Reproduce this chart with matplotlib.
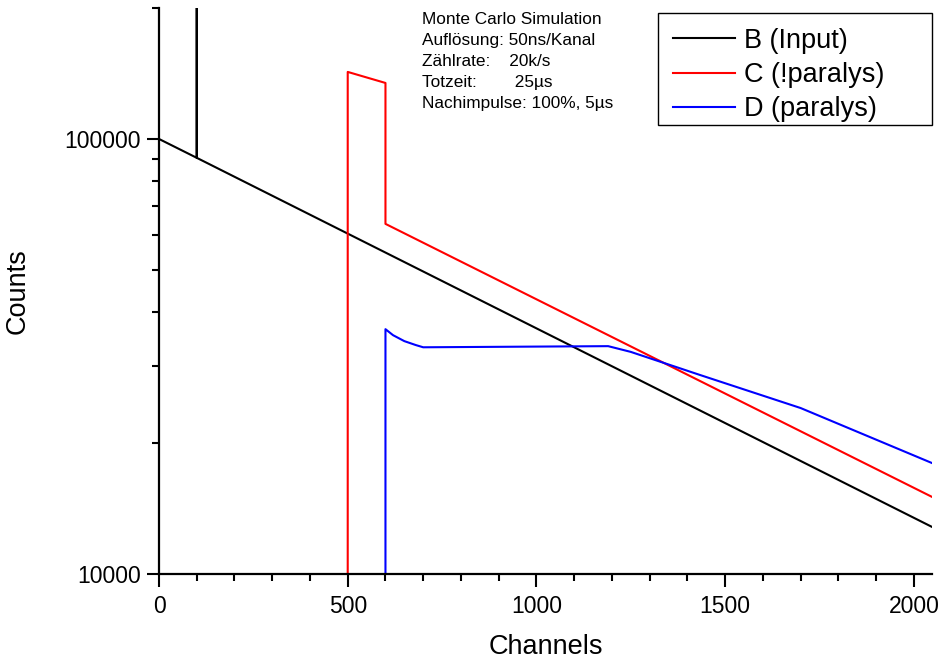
import matplotlib.pyplot as plt
from matplotlib.patches import Rectangle
from matplotlib.ticker import MultipleLocator, FixedLocator, FixedFormatter, LogLocator, NullFormatter

plt.rcParams['font.family'] = ['Liberation Sans', 'DejaVu Sans']

# channel / counts (break points of each curve)
b_ch = [0, 100, 100, 100, 2048]
b_counts = [100000, 90500, 1000000, 90500, 12830]

c_ch = [0, 500, 500, 600, 600, 2048]
c_counts = [1, 1, 142600, 134500, 63800, 15040]

d_ch = [0, 600, 600, 620, 650, 680, 700, 1190, 1250, 1433, 1700, 2048]
d_counts = [1, 1, 36540, 35400, 34300, 33600, 33200, 33400, 32400, 28680, 24070, 17990]

labels = ['B (Input)', 'C (!paralys)', 'D (paralys)']
info = ('Monte Carlo Simulation\n'
        'Auflösung: 50ns/Kanal\n'
        'Zählrate:    20k/s\n'
        'Totzeit:        25µs\n'
        'Nachimpulse: 100%, 5µs')

fig = plt.figure(figsize=(9.39, 6.64), dpi=100)
ax = fig.add_axes([159 / 939, 1 - 574 / 664, (932 - 159) / 939, (574 - 8) / 664])

ax.plot(b_ch, b_counts, color='black', lw=1.5, label=labels[0])
ax.plot(c_ch, c_counts, color='#ff0000', lw=1.5, label=labels[1])
ax.plot(d_ch, d_counts, color='#0000ff', lw=1.5, label=labels[2])

ax.set_yscale('log')
ax.set_xlim(0, 2048)
ax.set_ylim(10000, 200000)

ax.xaxis.set_major_locator(MultipleLocator(500))
ax.xaxis.set_minor_locator(MultipleLocator(100))
ax.yaxis.set_major_locator(FixedLocator([10000, 100000]))
ax.yaxis.set_major_formatter(FixedFormatter(['10000', '100000']))
ax.yaxis.set_minor_locator(LogLocator(base=10, subs=range(2, 10)))
ax.yaxis.set_minor_formatter(NullFormatter())

for s in ['top', 'right']:
    ax.spines[s].set_visible(False)
for s in ['left', 'bottom']:
    ax.spines[s].set_linewidth(1.6)

ax.tick_params(which='major', length=9, width=1.5, labelsize=16.5, pad=4)
ax.tick_params(axis='x', which='major', pad=6)
ax.tick_params(which='minor', length=5, width=1.5)

ax.set_xlabel('Channels', fontsize=19.5, labelpad=12)
ax.set_ylabel('Counts', fontsize=19.5, labelpad=24)

fig.text(422 / 939, 1 - 12 / 664, info, fontsize=12.4, va='top', ha='left', linespacing=1.5)

# legend frame drawn by hand, text box is wider than its contents
fig.patches.append(Rectangle((658 / 939, 1 - 125 / 664), (932 - 658) / 939, (125 - 13) / 664,
                             transform=fig.transFigure, fill=False, edgecolor='black', lw=1.0))
leg = ax.legend(loc='upper left', bbox_to_anchor=(658 / 939, 1 - 13 / 664),
                bbox_transform=fig.transFigure, borderaxespad=0, fontsize=19.5,
                frameon=False, handlelength=2.3, handletextpad=0.33,
                labelspacing=0.3, borderpad=0.55)

fig.savefig('out.png', dpi=100)
